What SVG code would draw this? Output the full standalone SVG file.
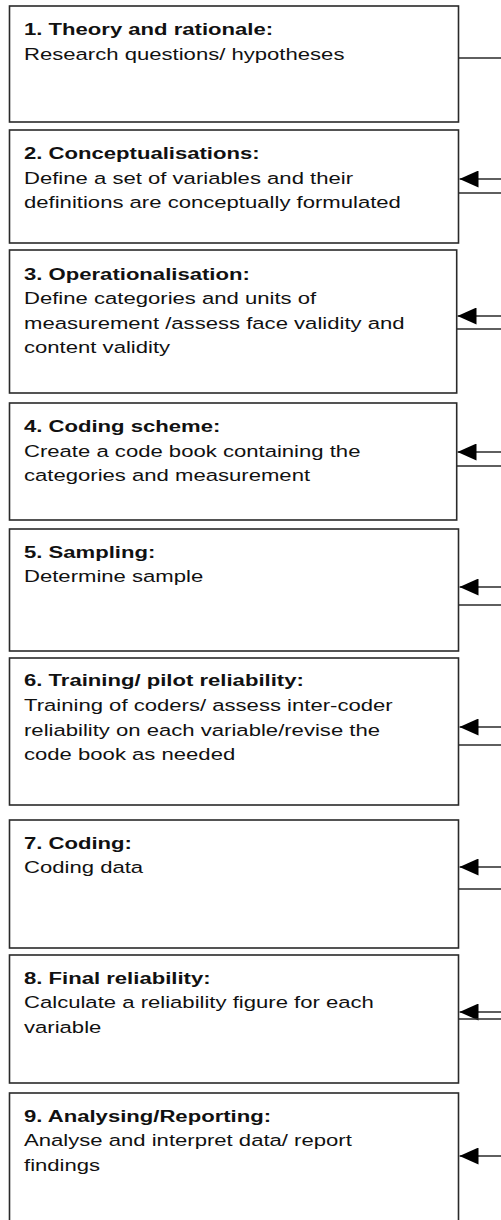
<svg xmlns="http://www.w3.org/2000/svg" width="501" height="1220" viewBox="0 0 501 1220">
<style>
.box{fill:#fff;stroke:#2a2a2a;stroke-width:1.6}
.t{font-family:"Liberation Sans",Arial,sans-serif;font-size:17px;fill:#111}
.b{font-weight:bold}
.c{stroke:#2a2a2a;stroke-width:1.5;fill:none}
</style>
<defs>
<marker id="ah" viewBox="0 0 19 17" refX="19" refY="8.5" markerWidth="19" markerHeight="17" markerUnits="userSpaceOnUse" orient="auto">
<path d="M0,0 L19,8.5 L0,17 z" fill="#000"/>
</marker>
</defs>
<rect width="501" height="1220" fill="#fff"/>
<g id="connectors">
<path class="c" d="M458.5,58 H501"/>
<path class="c" d="M501,179 H459.5" marker-end="url(#ah)"/>
<path class="c" d="M458.5,193 H501"/>
<path class="c" d="M501,316 H457.5" marker-end="url(#ah)"/>
<path class="c" d="M456.7,329 H501"/>
<path class="c" d="M501,452 H457.5" marker-end="url(#ah)"/>
<path class="c" d="M456.7,466 H501"/>
<path class="c" d="M501,587 H459.5" marker-end="url(#ah)"/>
<path class="c" d="M458.5,605 H501"/>
<path class="c" d="M501,727 H459.5" marker-end="url(#ah)"/>
<path class="c" d="M458.5,745 H501"/>
<path class="c" d="M501,867 H459.5" marker-end="url(#ah)"/>
<path class="c" d="M458.5,889 H501"/>
<path class="c" d="M501,1012 H459.5" marker-end="url(#ah)"/>
<path class="c" d="M458.5,1019 H501"/>
<path class="c" d="M501,1156 H459.5" marker-end="url(#ah)"/>
</g>
<g id="n1">
<rect class="box" x="9.5" y="6" width="449" height="116"/>
<g transform="translate(24 0) scale(1.3 1)">
<text class="t b" x="0" y="35">1. Theory and rationale:</text>
<text class="t" x="0" y="60">Research questions/ hypotheses</text>
</g>
</g>
<g id="n2">
<rect class="box" x="9.5" y="130" width="449" height="113"/>
<g transform="translate(24 0) scale(1.3 1)">
<text class="t b" x="0" y="159">2. Conceptualisations:</text>
<text class="t" x="0" y="184">Define a set of variables and their</text>
<text class="t" x="0" y="208.5">definitions are conceptually formulated</text>
</g>
</g>
<g id="n3">
<rect class="box" x="9.5" y="250" width="447.2" height="143"/>
<g transform="translate(24 0) scale(1.3 1)">
<text class="t b" x="0" y="280">3. Operationalisation:</text>
<text class="t" x="0" y="304.5">Define categories and units of</text>
<text class="t" x="0" y="329">measurement /assess face validity and</text>
<text class="t" x="0" y="353.5">content validity</text>
</g>
</g>
<g id="n4">
<rect class="box" x="9.5" y="403" width="447.2" height="117"/>
<g transform="translate(24 0) scale(1.3 1)">
<text class="t b" x="0" y="432">4. Coding scheme:</text>
<text class="t" x="0" y="456.5">Create a code book containing the</text>
<text class="t" x="0" y="481">categories and measurement</text>
</g>
</g>
<g id="n5">
<rect class="box" x="9.5" y="529" width="449" height="122"/>
<g transform="translate(24 0) scale(1.3 1)">
<text class="t b" x="0" y="558">5. Sampling:</text>
<text class="t" x="0" y="582.5">Determine sample</text>
</g>
</g>
<g id="n6">
<rect class="box" x="9.5" y="658" width="449" height="147"/>
<g transform="translate(24 0) scale(1.3 1)">
<text class="t b" x="0" y="686.5">6. Training/ pilot reliability:</text>
<text class="t" x="0" y="711.5">Training of coders/ assess inter-coder</text>
<text class="t" x="0" y="736">reliability on each variable/revise the</text>
<text class="t" x="0" y="760.5">code book as needed</text>
</g>
</g>
<g id="n7">
<rect class="box" x="9.5" y="820" width="449" height="128"/>
<g transform="translate(24 0) scale(1.3 1)">
<text class="t b" x="0" y="849">7. Coding:</text>
<text class="t" x="0" y="873.5">Coding data</text>
</g>
</g>
<g id="n8">
<rect class="box" x="9.5" y="955" width="449" height="128"/>
<g transform="translate(24 0) scale(1.3 1)">
<text class="t b" x="0" y="984">8. Final reliability:</text>
<text class="t" x="0" y="1008.5">Calculate a reliability figure for each</text>
<text class="t" x="0" y="1033">variable</text>
</g>
</g>
<g id="n9">
<rect class="box" x="9.5" y="1093" width="449" height="160"/>
<g transform="translate(24 0) scale(1.3 1)">
<text class="t b" x="0" y="1122">9. Analysing/Reporting:</text>
<text class="t" x="0" y="1146.5">Analyse and interpret data/ report</text>
<text class="t" x="0" y="1171">findings</text>
</g>
</g>
</svg>
